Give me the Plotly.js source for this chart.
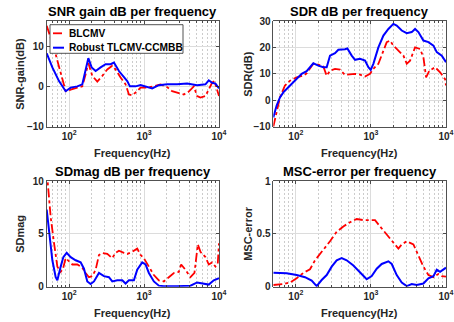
<!DOCTYPE html>
<html>
<head>
<meta charset="utf-8">
<script src="https://cdn.plot.ly/plotly-3.0.1.min.js"></script>
<style>html,body{margin:0;padding:0;background:#fff;}#chart{width:454px;height:322px;}</style>
</head>
<body>
<div id="chart"></div>
<script>
// ---- data ----
const seriesNames = ["BLCMV", "Robust TLCMV-CCMBB"];
const panelTitles = ["SNR gain dB per frequency", "SDR dB per frequency", "SDmag dB per frequency", "MSC-error per frequency"];
const yLabels = ["SNR-gain(dB)", "SDR(dB)", "SDmag", "MSC-error"];
const xLabel = "Frequency(Hz)";
const xTickVals = [100, 1000, 10000];
const xTickText = ["10<sup>2</sup>", "10<sup>3</sup>", "10<sup>4</sup>"];

const snrFreqRed = [50,56,62.7,68,73,80,89.6,95,104.5,128.2,149.5,165.6,179.8,203.2,236.9,276.2,322,375.5,415.9,485.1,565.5,626.4,693.8,809,896.1,1099.6,1349.5,1656,2032,2369,2762,3390,3952,4607,5104,5655,6592,7302,8088,8690,9432,10000];
const snrRed = [15,12.5,9.5,7,5,2,-1.2,-1.3,-0.8,-0.3,0,3,5.8,2.6,1.2,2.6,4.2,5.1,4.2,2.2,0.5,-2,-2.2,-1.2,-0.3,-0.3,0,0.5,-0.2,-1.2,-1.6,-2,-1.3,0,-2.4,-2.8,-2.4,-0.8,0.9,1.3,-1.2,-2.4];
const snrFreqBlue = [50,59.5,73,89.6,104.5,128.2,149.5,165.6,179.8,199.1,225.1,262.4,306,356.8,395.2,460.8,537.3,595.2,645.9,768.8,896.1,1099.6,1282,1573,2032,2762,3755,5104,6592,7302,8088,8962,10000];
const snrBlue = [8.2,4.7,1.3,-1.2,-0.3,0,0.5,3.8,7.0,4.7,3.8,4.7,5.5,5.5,5.9,3.8,2.2,1.3,0,0,0.3,-0.2,-0.5,0.3,0.5,0.5,0.7,0.3,0.5,1.5,0.9,0.7,-0.5];

const sdrFreqRed = [50,55.4,61.4,71.5,83.4,102.4,125.6,139.1,154.1,170.8,199.1,232.1,257.2,284.8,332.1,387.1,451.5,526.4,613.8,715.6,834.4,972.5,1077,1256,1465,1623,1797,1991,2321,2706,2999,3321,3871,4514,5000,5429,6012,7155,8342,9725,10000];
const sdrRed = [-10,-3.9,1.1,5.6,7.4,8.7,9.3,10.2,11.9,13.8,13.5,12.8,9.3,11.2,11.9,11.6,9.6,9.7,10,9.7,9,10,11.9,13.8,18.8,22,22.6,20.7,18.8,16.9,13.8,15,20,19.4,16.3,8.7,11.2,12.5,10.6,8,5.6];
const sdrFreqBlue = [50,55.4,61.4,68,79.3,97.3,119.4,139.1,154.1,170.8,199.1,232.1,257.2,284.8,332.1,367.9,451.5,485.1,554,613.8,715.6,834.4,924.1,992.7,1077,1256,1465,1707,1991,2205,2571,2999,3495,3871,4288,5000,5832,6798,7531,8780,10000];
const sdrBlue = [-6.5,-2,1.1,3,4.9,7.4,10,11,12.5,14,13.1,12.5,12.5,16.9,17.8,19.1,19.3,19.6,16.9,15.3,15.7,15,12.5,11.5,13.8,20,24.5,27,28.9,28.3,26.4,25.4,25.8,27,25.8,22.6,22,20.7,18.2,16.9,14.4];

const sdmFreqRed = [50,52.1,56.5,62.7,69.4,76.9,82.6,89.6,99.3,110,128.2,149.5,165.6,183.4,203.2,225.1,249.4,276.2,322,375.5,415.9,460.8,537.3,595.2,693.8,809,896.1,992.7,1157.5,1349.5,1573,1834,2138,2494,2907,3124,3567,4159,4703,5210,5655,6592,7302,8088,8962,9625,10000];
const sdmRed = [11,9.5,6.6,4.1,1.9,1.4,1.7,2.7,2.4,2.1,2.1,1.8,1.3,0.9,1,1.6,3,3.2,3.1,2.7,3.2,3.4,3.2,3.1,3.3,3.6,3,2.7,1.9,1.1,0.6,0.5,0.9,1.3,1.4,2.1,1.6,0.9,1.3,4,3.3,2.8,2.1,2.3,1.9,2.2,4.1];
const sdmFreqBlue = [50,53.7,59.5,65.9,69.4,76.9,83.4,92.4,104.5,121.8,142,157.3,174.3,193.1,213.9,249.4,290.7,339,375.5,437.7,510.5,565.5,626.4,730.3,809,943.2,1045,1157.5,1349.5,1573,1834,2762,4159,5104,5952,7302,8514,10000];
const sdmBlue = [7.3,5.1,2.5,0.9,0.6,1.9,2.8,3.2,2.8,2.5,2.3,1.7,0.5,0.25,0.5,1.3,1,0.9,0.5,0.6,0.6,0.3,0.6,0.6,1.6,2.3,2.1,1.3,0.5,0.1,0.05,0.05,0.1,0.4,0.3,0.2,0.6,0.8];

const mscFreqRed = [50,68,83.4,102.4,125.6,154.1,179.8,209.5,244.3,284.8,349.5,428.7,526.4,645.9,792.6,972.5,1134,1322,1623,1991,2321,2571,2999,3678,4288,5000,5832,6798,7893,8780,10000];
const mscRed = [0.016,0.025,0.04,0.08,0.13,0.165,0.25,0.31,0.36,0.43,0.52,0.57,0.61,0.64,0.63,0.63,0.63,0.57,0.49,0.41,0.36,0.40,0.43,0.40,0.30,0.19,0.11,0.09,0.12,0.10,0.095];
const mscFreqBlue = [50,75.3,102.4,132.2,162.3,189.2,220.5,257.2,299.8,349.5,407.5,475.2,583.2,715.6,877.9,1023.5,1193.6,1391,1707,1892,2205,2571,2999,3495,4075,5000,5832,6798,7531,8342,9239,10000];
const mscBlue = [0.133,0.127,0.11,0.09,0.057,0.006,0.063,0.11,0.19,0.25,0.27,0.25,0.20,0.13,0.07,0.10,0.17,0.215,0.24,0.215,0.11,0.04,0.006,0.025,0.016,0.03,0.08,0.10,0.16,0.14,0.165,0.18];

const yRanges = [[-10, 16.2], [-10, 30], [0, 10], [0, 1]];
const yTicks = [[-10, 0, 10], [-10, 0, 10, 20, 30], [0, 5, 10], [0, 0.5, 1]];
const xMinorTicks = [50,60,70,80,90,200,300,400,500,600,700,800,900,2000,3000,4000,5000,6000,7000,8000,9000];

// ---- layout / styling ----
const FONT = "Liberation Sans, Arial, Helvetica, sans-serif";
const AX = '#262626';
const W = 454, H = 322;
const xDom = [[46.7 / W, 219 / W], [273.3 / W, 446 / W]];
const yDom = [[1 - 126.7 / H, 1 - 21 / H], [1 - 286.7 / H, 1 - 181 / H]];

const redLine = {color: '#ff0000', width: 1.8, dash: 'dashdot'};
const blueLine = {color: '#0000ff', width: 2};

const panels = [
  [snrFreqRed, snrRed, snrFreqBlue, snrBlue],
  [sdrFreqRed, sdrRed, sdrFreqBlue, sdrBlue],
  [sdmFreqRed, sdmRed, sdmFreqBlue, sdmBlue],
  [mscFreqRed, mscRed, mscFreqBlue, mscBlue]
];

const traces = [];
panels.forEach((p, i) => {
  const xa = 'x' + (i === 0 ? '' : i + 1), ya = 'y' + (i === 0 ? '' : i + 1);
  traces.push({x: p[0], y: p[1], type: 'scatter', mode: 'lines', name: seriesNames[0], line: redLine, xaxis: xa, yaxis: ya, showlegend: false});
  traces.push({x: p[2], y: p[3], type: 'scatter', mode: 'lines', name: seriesNames[1], line: blueLine, xaxis: xa, yaxis: ya, showlegend: false});
});

const layout = {
  width: W, height: H,
  margin: {l: 0, r: 0, t: 0, b: 0},
  paper_bgcolor: '#ffffff', plot_bgcolor: '#ffffff',
  font: {family: FONT, color: AX},
  showlegend: false,
  annotations: [],
  shapes: []
};

for (let i = 0; i < 4; i++) {
  const col = i % 2, row = Math.floor(i / 2);
  const sfx = i === 0 ? '' : String(i + 1);
  const yAnchor = 'y' + sfx, xAnchor = 'x' + sfx;
  layout['xaxis' + sfx] = {
    type: 'log', domain: xDom[col], anchor: yAnchor,
    range: [Math.log10(50), 4],
    tickmode: 'array', tickvals: xTickVals, ticktext: xTickText,
    tickfont: {family: FONT, size: 10, weight: 'bold', color: AX},
    ticks: 'inside', ticklen: 3, tickcolor: AX, tickwidth: 0.8,
    showline: true, linecolor: AX, linewidth: 0.8, mirror: 'ticks',
    showgrid: true, gridcolor: '#dcdcdc', gridwidth: 1,
    minor: {tickmode: 'array', tickvals: xMinorTicks, ticks: 'inside', ticklen: 2, tickcolor: AX, tickwidth: 0.8,
            showgrid: true, gridcolor: '#cccccc', griddash: '2px,2px', gridwidth: 1},
    zeroline: false, fixedrange: true
  };
  layout['yaxis' + sfx] = {
    domain: yDom[row], anchor: xAnchor,
    range: yRanges[i], tickmode: 'array', tickvals: yTicks[i],
    tickfont: {family: FONT, size: 10, weight: 'bold', color: AX},
    ticks: 'inside', ticklen: 3, tickcolor: AX, tickwidth: 0.8,
    showline: true, linecolor: AX, linewidth: 0.8, mirror: 'ticks',
    showgrid: true, gridcolor: '#dcdcdc', gridwidth: 1,
    zeroline: false, fixedrange: true
  };
  const cx = (xDom[col][0] + xDom[col][1]) / 2;
  const cy = (yDom[row][0] + yDom[row][1]) / 2;
  layout.annotations.push({
    text: panelTitles[i], xref: 'paper', yref: 'paper', x: cx, y: yDom[row][1],
    xanchor: 'center', yanchor: 'bottom', showarrow: false,
    font: {family: FONT, size: 13, weight: 'bold', color: '#000000'}
  });
  layout.annotations.push({
    text: xLabel, xref: 'paper', yref: 'paper', x: cx, y: yDom[row][0], yshift: -26,
    xanchor: 'center', yanchor: 'middle', showarrow: false,
    font: {family: FONT, size: 11, weight: 'bold', color: AX}
  });
  layout.annotations.push({
    text: yLabels[i], xref: 'paper', yref: 'paper', x: (col === 0 ? 20 : 248) / W, y: cy,
    xanchor: 'center', yanchor: 'middle', showarrow: false, textangle: -90,
    font: {family: FONT, size: 11, weight: 'bold', color: AX}
  });
}

// legend box (MATLAB style) in the first panel
const lg = {x0: 50, x1: 183, y0: 24.7, y1: 53.3, rows: [33.3, 47.7], s0: 53, s1: 64, tx: 66.5};
layout.shapes.push({type: 'rect', xref: 'paper', yref: 'paper', layer: 'above',
  x0: lg.x0 / W, x1: lg.x1 / W, y0: 1 - lg.y1 / H, y1: 1 - lg.y0 / H,
  fillcolor: '#ffffff', line: {color: AX, width: 0.8}});
[redLine, blueLine].forEach((ln, k) => {
  layout.shapes.push({type: 'line', xref: 'paper', yref: 'paper', layer: 'above',
    x0: lg.s0 / W, x1: lg.s1 / W, y0: 1 - lg.rows[k] / H, y1: 1 - lg.rows[k] / H,
    line: {color: ln.color, width: ln.width, dash: ln.dash || 'solid'}});
  layout.annotations.push({text: seriesNames[k], xref: 'paper', yref: 'paper',
    x: lg.tx / W, y: 1 - lg.rows[k] / H, xanchor: 'left', yanchor: 'middle', showarrow: false,
    font: {family: FONT, size: 10.2, weight: 'bold', color: '#000000'}});
});

Plotly.newPlot('chart', traces, layout, {displayModeBar: false, staticPlot: true});
</script>
</body>
</html>
